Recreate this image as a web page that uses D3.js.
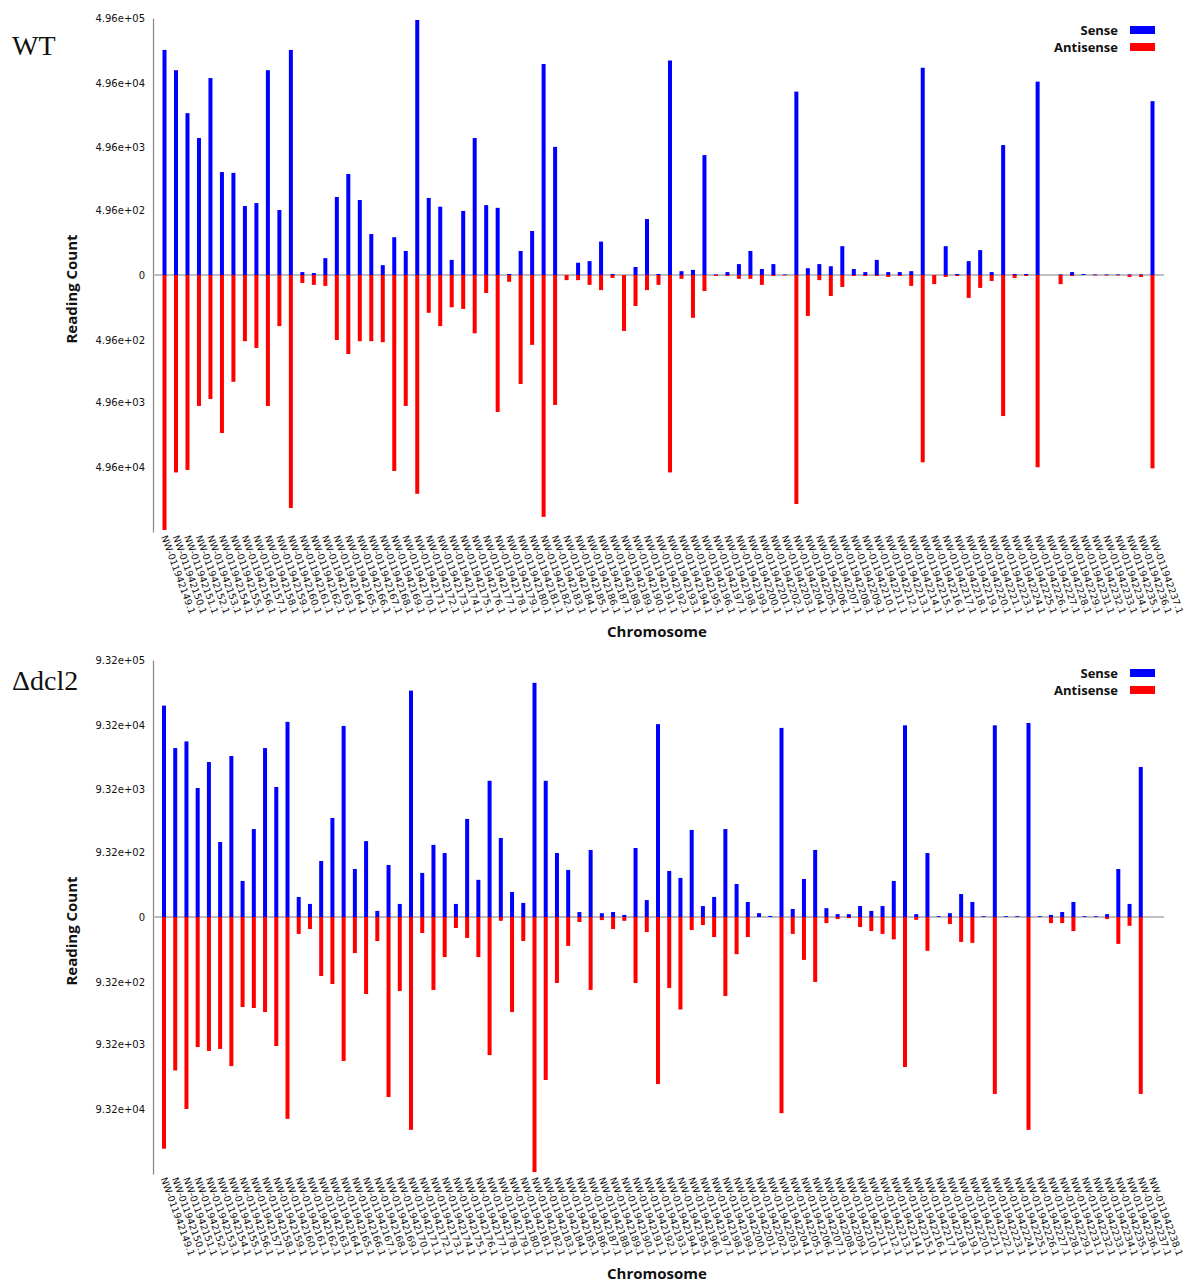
<!DOCTYPE html>
<html>
<head>
<meta charset="utf-8">
<style>
  body { margin: 0; background: #fff; }
  svg text { fill: #111; }
  .tick text { font-family: "DejaVu Sans", sans-serif; }
  .bold { font-family: "Open Sans", sans-serif; font-weight: 700; }
</style>
<script src="https://cdn.jsdelivr.net/npm/d3@7"></script>
</head>
<body>
<svg id="chart" width="1184" height="1284"></svg>
<script>
// chromosome ids (suffix of NW-011942xxx.1)
var wtIds = [149,150,151,152,153,154,155,156,157,158,159,160,161,162,163,164,165,166,167,168,
  169,170,171,172,173,174,175,176,177,178,179,180,181,182,183,184,185,186,187,188,
  189,190,191,192,193,194,195,196,197,198,199,200,201,202,203,204,205,206,207,208,
  209,210,211,212,213,214,215,216,217,218,219,220,221,223,224,225,226,227,228,229,
  231,232,233,234,235,236,237];
var wtSense = [160000,78000,17000,7000,59000,2060,2000,580,650,78000,
  496,160000,6,4,45,820,1920,730,180,23,
  155,74,462000,790,565,39,478,7000,600,540,
  2,74,207,97000,5100,0,30,35,125,2,
  0,18,345,2,110000,8,11,3800,1,6,
  26,74,13,26,1,36500,15,26,20,98,
  13,6,39,6,6,8,85000,0,98,2,
  35,78,6,5450,2,2,52000,0,1,6,
  2,1,1,1,1,1,26000];
var wtAntisense = [462000,60000,55000,5650,4400,14800,2370,520,675,5650,
  282,212000,18,23,26,496,850,520,520,540,
  57000,5650,128000,155,282,118,128,380,49,7000,
  15,2560,600,290000,5450,11,11,23,39,6,
  345,110,39,23,60000,8,196,42,2,2,
  8,8,23,2,1,184000,180,11,61,29,
  2,2,2,4,2,26,42000,21,4,2,
  69,32,13,8100,6,2,50000,0,21,2,
  0,1,1,1,4,4,52000];

var dclIds = [149,150,151,152,153,154,155,156,157,158,159,160,161,162,163,164,165,166,167,168,
  169,170,171,172,173,174,175,176,177,178,179,180,181,182,183,184,185,186,187,188,
  189,190,191,192,193,194,195,196,197,198,199,200,201,202,203,204,205,206,207,208,
  209,210,211,212,213,214,215,216,217,218,219,220,221,222,223,224,225,226,227,228,
  229,231,232,233,234,235,236,237,238];
var dclSense = [185000,41000,52000,9900,25000,1373,31000,268,2230,41000,
  10260,104000,107,61,650,3360,90000,464,1420,25,
  550,61,315000,390,1230,895,61,3240,283,12800,
  1600,147,67,415000,12800,895,445,20,1010,15,
  20,8,1090,85,96000,425,310,2160,49,107,
  2230,230,73,15,4,84000,34,295,1010,38,
  11,11,49,25,49,268,92000,11,895,3,
  15,130,73,3,92000,3,3,100000,3,8,
  20,73,3,3,11,464,61,20950,0];
var dclAntisense = [380000,23700,93000,10260,11800,11000,20300,2409,2500,2900,
  9900,132000,85,55,735,1010,16900,268,1480,139,
  60850,1320,195000,79,1270,324,49,114,324,13700,
  15,2900,139,870000,33200,970,185,20,1270,12,
  55,15,970,73,38400,1180,2640,61,34,107,
  1600,283,107,0,0,108000,85,370,932,25,
  8,4,44,67,85,125,20950,11,240,0,
  29,147,155,0,54500,0,0,195000,0,25,
  25,67,0,0,8,165,38,54500,0];

var wtMax = 4.96e5, dclMax = 9.32e5;

var svg = d3.select("#chart");

function expLabel(v) {
  if (v === 0) return "0";
  var s = Math.abs(v).toExponential(2);   // 4.96e+5
  return s.replace(/e([+-])(\d)$/, "e$10$2");
}

function drawPanel(cfg) {
  var g = svg.append("g");
  var labels = cfg.ids.map(function(d) { return "NW-011942" + d + ".1"; });
  var data = labels.map(function(l, i) { return {name: l, s: cfg.sense[i], a: cfg.anti[i]}; });

  var x = d3.scalePoint().domain(labels).range([cfg.x0, cfg.x1]);
  var y = d3.scaleSymlog().constant(cfg.max / 9000)
      .domain([-cfg.max, cfg.max]).range([cfg.bottom, cfg.top]);
  var zero = y(0);

  // y axis
  var yAxis = d3.axisLeft(y)
      .tickValues([cfg.max, cfg.max/10, cfg.max/100, cfg.max/1000, 0, -cfg.max/1000, -cfg.max/100, -cfg.max/10])
      .tickSize(0).tickPadding(8).tickFormat(expLabel);
  var ya = g.append("g").attr("transform", "translate(153,0)").call(yAxis);
  ya.select(".domain").attr("stroke", "#888").attr("stroke-width", 1.2);
  ya.selectAll("text").style("font-size", "10px");

  // zero line
  g.append("line").attr("x1", 153).attr("x2", 1164).attr("y1", zero).attr("y2", zero)
    .attr("stroke", "#aaa").attr("stroke-width", 1.5);

  // bars
  g.selectAll(".sense").data(data).enter().append("rect")
    .attr("class", "sense")
    .attr("x", function(d) { return x(d.name) - 2; })
    .attr("width", 4)
    .attr("y", function(d) { return y(d.s); })
    .attr("height", function(d) { return zero - y(d.s); })
    .attr("fill", "#0000ff");
  g.selectAll(".anti").data(data).enter().append("rect")
    .attr("class", "anti")
    .attr("x", function(d) { return x(d.name) - 2; })
    .attr("width", 4)
    .attr("y", zero)
    .attr("height", function(d) { return y(-d.a) - zero; })
    .attr("fill", "#ff0000");

  // x axis labels
  var xa = g.append("g").attr("transform", "translate(0," + cfg.bottom + ")")
    .call(d3.axisBottom(x).tickSize(0));
  xa.select(".domain").remove();
  xa.selectAll("text")
    .style("font-size", "9.5px")
    .style("text-anchor", "start")
    .attr("x", 3).attr("y", 2).attr("dy", "0.35em")
    .attr("transform", "rotate(70)");

  // axis titles
  g.append("text").attr("class", "bold")
    .attr("transform", "translate(77," + (zero + 14) + ") rotate(-90)")
    .attr("text-anchor", "middle").style("font-size", "15px")
    .text("Reading Count");
  g.append("text").attr("class", "bold")
    .attr("x", 657).attr("y", cfg.bottom + 105)
    .attr("text-anchor", "middle").style("font-size", "15px")
    .text("Chromosome");

  // panel title
  g.append("text").attr("x", 12).attr("y", cfg.titleY)
    .style("font-family", "'Liberation Serif', serif").style("font-size", "28px")
    .text(cfg.title);

  // legend
  var leg = [["Sense", "#0000ff"], ["Antisense", "#ff0000"]];
  leg.forEach(function(l, i) {
    var ly = cfg.legendY + i * 17;
    g.append("text").attr("class", "bold")
      .attr("x", 1118).attr("y", ly).attr("text-anchor", "end")
      .style("font-size", "13px").text(l[0]);
    g.append("rect").attr("x", 1130).attr("y", ly - 9).attr("width", 25).attr("height", 8)
      .attr("fill", l[1]);
  });
}

drawPanel({ids: wtIds, sense: wtSense, anti: wtAntisense, max: wtMax,
  x0: 164.5, x1: 1152.5, top: 18, bottom: 532, title: "WT", titleY: 55, legendY: 35});
drawPanel({ids: dclIds, sense: dclSense, anti: dclAntisense, max: dclMax,
  x0: 164, x1: 1152, top: 660, bottom: 1174, title: "\u0394dcl2", titleY: 690, legendY: 678});
</script>
</body>
</html>
